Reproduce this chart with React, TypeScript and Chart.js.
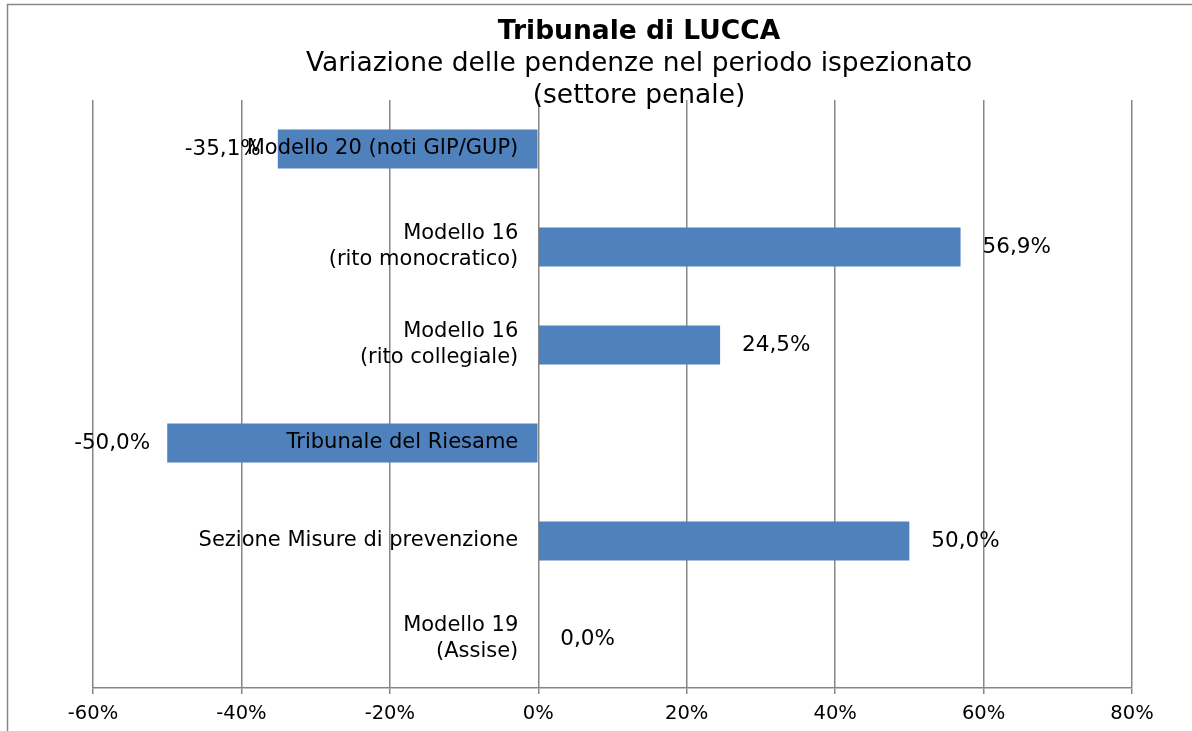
import React, { useEffect, useRef } from "react";
import { Chart, registerables } from "chart.js";

Chart.register(...registerables);

const titleText = "Tribunale di LUCCA";
const subtitleLines = ["Variazione delle pendenze nel periodo ispezionato", "(settore penale)"];
const categories: string[][] = [
  ["Modello 20 (noti GIP/GUP)"],
  ["Modello 16", "(rito monocratico)"],
  ["Modello 16", "(rito collegiale)"],
  ["Tribunale del Riesame"],
  ["Sezione Misure di prevenzione"],
  ["Modello 19", "(Assise)"],
];
const values: number[] = [-35.1, 56.9, 24.5, -50.0, 50.0, 0.0];
const xMin = -60;
const xMax = 80;
const xStep = 20;

const BAR_COLOR = "#4F81BD";
const GRID_COLOR = "#868686";
const FONT = "'DejaVu Sans', Verdana, sans-serif";

const fmt = (v: number) => v.toFixed(1).replace(".", ",") + "%";

const decorPlugin = {
  id: "decor",
  beforeDraw(chart: any) {
    const { ctx } = chart;
    ctx.save();
    ctx.fillStyle = "#ffffff";
    ctx.fillRect(0, 0, chart.width, chart.height);
    ctx.strokeStyle = GRID_COLOR;
    ctx.lineWidth = 1.5;
    ctx.strokeRect(7.5, 4.5, 1400, 1000);
    ctx.restore();
  },
  afterDatasetsDraw(chart: any) {
    const { ctx } = chart;
    const xs = chart.scales.x;
    const ys = chart.scales.y;
    const zeroX = xs.getPixelForValue(0);
    ctx.save();
    ctx.fillStyle = "#000000";
    ctx.textBaseline = "middle";
    // category labels next to the zero line
    ctx.font = `21px ${FONT}`;
    ctx.textAlign = "right";
    const lh = 26;
    categories.forEach((lines, i) => {
      const cy = ys.getPixelForValue(i);
      const start = cy - ((lines.length - 1) * lh) / 2;
      lines.forEach((ln, j) => ctx.fillText(ln, zeroX - 20, start + j * lh));
    });
    // data labels
    ctx.font = `21.5px ${FONT}`;
    values.forEach((v, i) => {
      const cy = ys.getPixelForValue(i);
      const ex = xs.getPixelForValue(v);
      if (v < 0) {
        ctx.textAlign = "right";
        ctx.fillText(fmt(v), ex - 17, cy);
      } else {
        ctx.textAlign = "left";
        ctx.fillText(fmt(v), ex + 22, cy);
      }
    });
    // title
    const tx = 639;
    ctx.textAlign = "center";
    ctx.font = `bold 26.5px ${FONT}`;
    ctx.fillText(titleText, tx, 32);
    ctx.font = `26.5px ${FONT}`;
    subtitleLines.forEach((ln, j) => ctx.fillText(ln, tx, 64 + j * 32));
    ctx.restore();
  },
};

export default function App() {
  const ref = useRef<HTMLCanvasElement | null>(null);
  useEffect(() => {
    document.body.style.margin = "0";
    const canvas = ref.current!;
    const chart = new Chart(canvas, {
      type: "bar",
      data: {
        labels: categories.map((c) => c.join(" ")),
        datasets: [
          {
            data: values,
            backgroundColor: BAR_COLOR,
            borderWidth: 0,
            barPercentage: 0.4,
            categoryPercentage: 1,
          },
        ],
      },
      options: {
        indexAxis: "y",
        animation: false,
        responsive: false,
        maintainAspectRatio: false,
        layout: { padding: { left: 93, right: 60, top: 100, bottom: 0 } },
        plugins: {
          legend: { display: false },
          tooltip: { enabled: false },
          title: { display: false },
        },
        scales: {
          x: {
            min: xMin,
            max: xMax,
            afterFit: (scale: any) => {
              scale.height = 43;
            },
            grid: {
              color: GRID_COLOR,
              lineWidth: 1.5,
              tickLength: 6,
              drawOnChartArea: true,
            },
            border: { color: GRID_COLOR, width: 1.5 },
            ticks: {
              stepSize: xStep,
              padding: 8,
              color: "#000000",
              font: { family: FONT, size: 19.5 },
              callback: (v: any) => `${v}%`,
            },
          },
          y: {
            display: false,
          },
        },
      },
      plugins: [decorPlugin],
    });
    return () => chart.destroy();
  }, []);
  return (
    <div style={{ width: 1192, height: 731, overflow: "hidden" }}>
      <canvas ref={ref} width={1192} height={731} style={{ display: "block" }} />
    </div>
  );
}
